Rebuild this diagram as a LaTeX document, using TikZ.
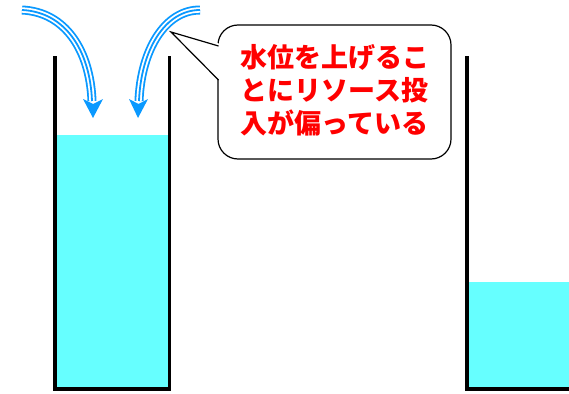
\documentclass[tikz,border=0pt]{standalone}
\usepackage{fontspec}
\newfontfamily\cjk{Noto Sans CJK JP}
\tikzset{
  wall/.style={line width=3.6pt, line cap=rect},
  water/.style={fill=watercol},
  shaft/.style={draw=flowblue, line width=9pt},
  gap/.style={draw=white, line width=5.4pt},
  core/.style={draw=flowblue, line width=1.8pt},
  head/.style={fill=flowblue},
  bubble/.style={draw, line width=1.2pt, rounded corners=20pt, fill=white,
    minimum width=233pt, minimum height=134pt, inner sep=0pt},
}
\definecolor{watercol}{RGB}{102,255,255}
\definecolor{flowblue}{RGB}{10,153,255}
\begin{document}
\begin{tikzpicture}[x=1pt,y=-1pt]
\useasboundingbox (0,0) rectangle (569,393);
% left container
\fill[water] (57,135) rectangle (168,388);
\draw[wall] (55,58) -- (55,389) -- (169.5,389) -- (169.5,58);
% right container
\fill[water] (469,282) rectangle (569,388);
\draw[wall] (467,58) -- (467,389) -- (570,389);
% arrows
\coordinate (aS) at (22,10);
\coordinate (aE) at (92,101);
\coordinate (bS) at (200,10);
\coordinate (bE) at (139,101);
\foreach \s in {shaft,gap,core}{
  \draw[\s] (aS) .. controls (65,12) and (90,50) .. (aE);
  \draw[\s] (bS) .. controls (165,10) and (141,50) .. (bE);
}
\fill[head] (93,118) -- (83,99) -- (93,104) -- (103,99) -- cycle;
\fill[head] (138,118) -- (129,99) -- (138.5,104) -- (148,99) -- cycle;
% callout
\node[bubble] (bub) at (334.5,92) {};
\coordinate (tip) at (171,32);
\fill[white] (tip) -- (221,44) -- (221,82) -- cycle;
\draw[line width=1.2pt, line join=miter] (218.5,46) -- (tip) -- (218.5,80);
\node[text=red, font=\cjk\bfseries\fontsize{27pt}{33pt}\selectfont, align=center, inner sep=0pt]
  (txt) at (334.5,90) {水位を上げるこ\\とにリソース投\\入が偏っている};
\end{tikzpicture}
\end{document}
